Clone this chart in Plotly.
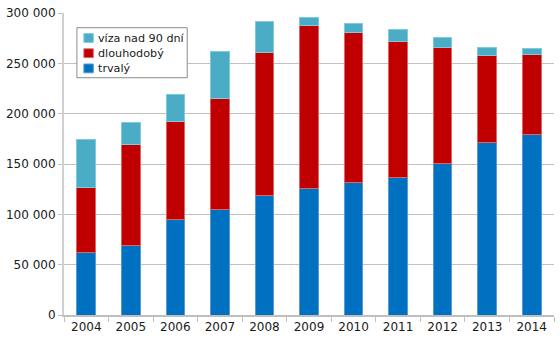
import plotly.graph_objects as go

years = ["2004", "2005", "2006", "2007", "2008", "2009", "2010", "2011", "2012", "2013", "2014"]
trvaly = [62000, 68700, 94700, 105100, 118700, 126100, 131900, 136800, 150400, 171200, 179300]
dlouhodoby = [64800, 100900, 97300, 109900, 141600, 161200, 148800, 134600, 115500, 86600, 79800]
viza = [47600, 22100, 27200, 46700, 31500, 8500, 8500, 12300, 9700, 8400, 6100]
tick_vals = [0, 50000, 100000, 150000, 200000, 250000, 300000]
tick_text = ["0", "50 000", "100 000", "150 000", "200 000", "250 000", "300 000"]

series = [
    ("trvalý", trvaly, "#0070C0", "#5B9BD5"),
    ("dlouhodobý", dlouhodoby, "#C00000", "#E06666"),
    ("víza nad 90 dní", viza, "#4BACC6", "#7FCBDD"),
]

W, H = 560, 340
ML, MR, MT, MB = 61, 6, 9, 23
PW, PH = W - ML - MR, H - MT - MB


def px(x):
    return (x - ML) / PW


def py(y):
    return (H - MB - y) / PH


fig = go.Figure()
for name, vals, col, edge in series:
    fig.add_bar(x=years, y=vals, name=name,
                marker=dict(color=col, line=dict(color=edge, width=1)))

# custom legend (reversed order like the reference)
shapes = [dict(type="rect", xref="paper", yref="paper",
               x0=px(74), x1=px(185), y0=py(75), y1=py(24),
               line=dict(color="#8c8c8c", width=1), fillcolor="white", layer="above")]
annotations = []
row_y = [34.5, 50, 65.5]
for (name, vals, col, edge), yc in zip(reversed(series), row_y):
    shapes.append(dict(type="rect", xref="paper", yref="paper",
                       x0=px(81), x1=px(90.5), y0=py(yc + 4.5), y1=py(yc - 4.5),
                       line=dict(color=edge, width=1), fillcolor=col, layer="above"))
    annotations.append(dict(xref="paper", yref="paper", x=px(93), y=py(yc),
                            xanchor="left", yanchor="middle", text=name,
                            showarrow=False, font=dict(size=11.2, color="#1a1a1a")))

fig.update_layout(
    width=W, height=H,
    margin=dict(l=ML, r=MR, t=MT, b=MB),
    barmode="stack", bargap=0.58,
    paper_bgcolor="white", plot_bgcolor="white",
    font=dict(family="DejaVu Sans", size=12, color="#1a1a1a"),
    showlegend=False,
    shapes=shapes, annotations=annotations,
    xaxis=dict(showline=True, linecolor="#BFBFBF", linewidth=2,
               ticks="outside", ticklen=5, tickcolor="#BFBFBF",
               tickson="boundaries", showgrid=False),
    yaxis=dict(range=[0, 300000], tickvals=tick_vals, ticktext=tick_text,
               showline=True, linecolor="#D0D0D0", linewidth=2,
               ticks="outside", ticklen=4, tickcolor="#BFBFBF",
               showgrid=True, gridcolor="#C0C0C0", gridwidth=1,
               zeroline=False),
)
fig.write_html("out.html")
